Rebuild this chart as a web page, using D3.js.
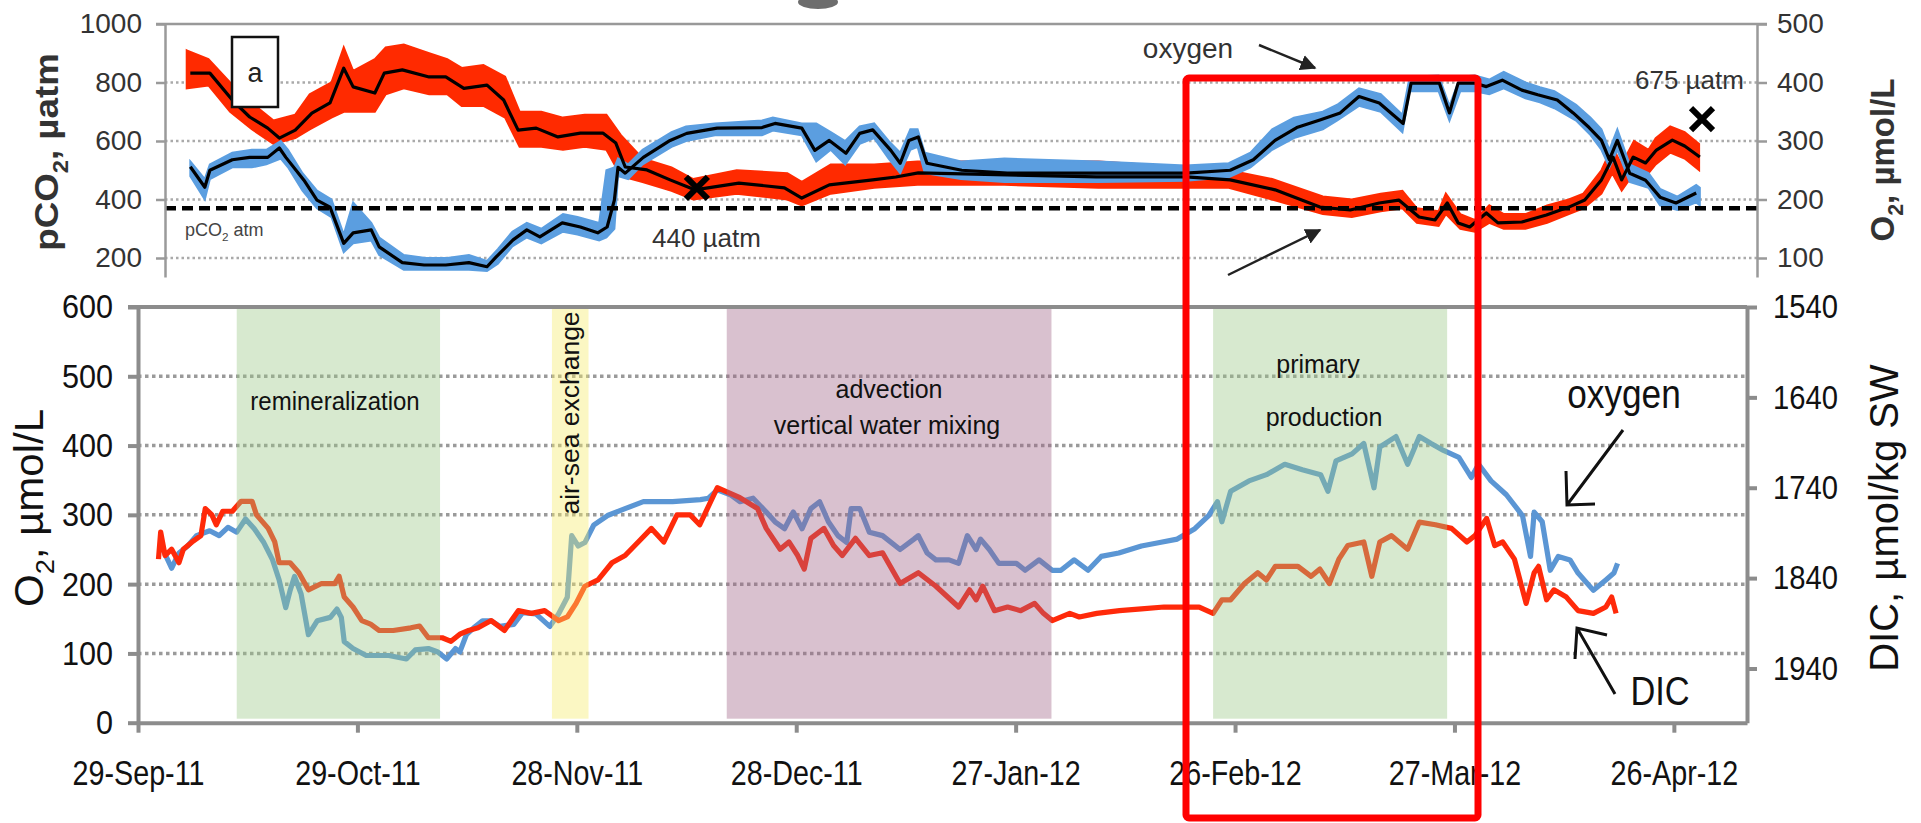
<!DOCTYPE html>
<html>
<head>
<meta charset="utf-8">
<script src="https://cdn.jsdelivr.net/npm/d3@7"></script>
<style>
body { margin: 0; background: #fff; }
svg { display: block; font-family: "Liberation Sans", Arial, sans-serif; }
</style>
</head>
<body>
<div id="chart"></div>
<script>
// ---- data (day = days after 29-Sep-2011) ----

// top panel: smoothed pCO2 (uatm) and O2 (umol/L)
var topPco2 = [[3.5,832],[6.2,832],[9.3,740],[11.7,682],[14.2,644],[15.8,610],[18,637],[20.3,695],[22.8,730],[24.7,849],[26,785],[29,764],[30.3,832],[32.8,843],[36.5,819],[38.8,819],[41.3,780],[44.5,791],[46.8,740],[48.8,637],[51.3,644],[54.3,614],[57.4,627],[60.5,627],[62.3,593],[63.6,511],[66.6,501],[69.8,467],[73.2,433],[79.3,456],[85.6,440],[88,405],[91.8,450],[97.8,467],[101,477],[104.1,491],[116.4,484],[128.7,477],[141.1,477],[147.2,467],[153.4,433],[159.6,374],[163.8,364],[167.8,388],[170.5,398],[173.3,340],[175.5,330],[177.2,388],[178.7,320],[180.3,306],[182.6,354],[184.2,320],[187.5,323],[190.9,347],[194,374],[196.2,398],[198.5,467],[200.1,545],[201.3,467],[202.9,545],[204.6,525],[206.1,569],[208.3,603],[210,583],[212.1,545]];
var topO2 = [[3.5,256],[5.5,221],[6.2,250],[9.3,268],[11.7,272],[14.2,272],[15.8,288],[16.7,272],[19.2,233],[21,199],[22.8,187],[24.7,125],[26,143],[28.5,148],[29.6,119],[32.8,92],[35.8,88],[38.8,88],[42,92],[44.5,85],[45.7,101],[48.1,131],[50,148],[51.8,136],[54.9,160],[57.4,153],[59.8,143],[61.1,153],[62.1,199],[62.6,255],[63.6,245],[66.1,272],[69.8,301],[72.1,313],[76.3,322],[82.5,323],[84.3,330],[88,322],[89.8,284],[91.8,301],[94.1,279],[96,313],[97.8,319],[100.3,284],[101.6,262],[102.8,301],[104.1,307],[105.3,262],[110.1,250],[116.4,245],[128.7,245],[141.1,245],[147.2,250],[150.4,268],[153.4,301],[156.4,323],[159.6,336],[162.4,348],[165,376],[167.8,365],[171.1,330],[172.2,399],[176.1,399],[177.5,348],[178.7,399],[180.9,399],[182.6,393],[184.8,404],[187.5,387],[189.7,379],[192.4,370],[194.6,348],[196.8,323],[198.5,301],[199.6,268],[200.7,301],[202.4,245],[204.6,233],[206.6,204],[208.8,194],[211.6,211]];

// top panel: spread of the raw records [day, low, high]
var topPco2Raw = [[3,780,910],[6,790,880],[9,700,800],[12,640,730],[15,590,670],[18,610,690],[20,640,760],[23,680,800],[24.7,700,920],[26,700,840],[29,700,880],[30.5,760,920],[33,780,930],[36.5,760,900],[39,760,880],[41,720,850],[44,720,860],[47,680,820],[49,580,700],[52,580,700],[55,570,680],[58,580,690],[61,570,690],[63,480,620],[66,460,540],[70,430,510],[73,400,470],[79,420,500],[86,400,490],[88,380,460],[92,420,520],[98,440,520],[104,450,530],[116,450,530],[129,440,530],[141,440,510],[147,440,500],[153,400,470],[160,350,410],[164,340,400],[168,360,420],[171,370,430],[173,320,370],[176,310,360],[177,350,420],[179,300,350],[181,290,330],[183,320,380],[185,300,350],[188,300,350],[191,320,380],[194,350,400],[196,370,420],[198.5,420,500],[200,490,580],[201.3,430,520],[203,490,600],[205,490,570],[206,520,610],[208,560,650],[210,540,630],[212,500,590]];
var topO2Raw = [[3.5,240,265],[5.5,200,235],[6.2,235,260],[9.3,255,280],[12,255,285],[14,260,285],[16,270,300],[17,255,285],[19,215,245],[21,185,215],[23,170,200],[24.7,110,140],[26,125,195],[28.5,130,160],[29.6,105,135],[33,80,105],[36,80,100],[39,80,100],[42,80,105],[44.5,78,95],[46,90,115],[48,120,145],[50,135,160],[52,125,150],[55,145,175],[57,140,170],[60,130,160],[61,135,250],[62.1,150,255],[62.6,240,270],[64,235,260],[66,260,285],[70,290,315],[72,300,325],[76,310,330],[82.5,310,335],[84,318,340],[88,310,330],[90,265,330],[92,285,315],[94,260,300],[96,295,325],[98,305,330],[100,270,300],[101.6,245,280],[103,285,320],[104,290,320],[105,245,280],[110,235,265],[116,230,270],[129,230,265],[141,232,258],[147,238,262],[150,255,280],[153,285,320],[156,305,340],[160,320,350],[162,335,362],[165,360,390],[168,350,380],[171,315,345],[172,385,410],[176,385,412],[177.5,335,360],[179,385,410],[181,385,412],[183,380,405],[185,390,418],[188,373,400],[190,366,392],[192,356,385],[195,335,362],[197,310,340],[198.5,285,320],[199.6,255,285],[200.7,285,320],[202.4,230,260],[205,220,245],[206.6,190,218],[209,182,205],[211.6,195,225],[212.1,190,220]];

var pco2Atm = 370;
var topMarks = [[73.5, 440], [212.4, 675]];

// bottom panel: oxygen (umol/L) and DIC (umol/kg SW)
var oxygen = [[3.4,250],[4.6,223],[5.6,245],[6.8,255],[8,270],[9.8,277],[11.1,270],[12.3,282],[13.5,275],[14.7,294],[15.9,280],[17.2,260],[18.4,235],[19.3,206],[20.2,166],[20.8,191],[21.4,211],[22.3,186],[23.3,127],[23.9,137],[24.5,147],[26.3,152],[27.2,164],[27.8,152],[28.2,117],[29.4,107],[31.2,97],[34.3,97],[36.7,92],[37.9,105],[39.7,107],[41,102],[42.2,92],[43.4,107],[44,102],[44.9,127],[45.9,137],[47.1,147],[48.3,147],[49.5,139],[51.4,142],[52.6,159],[54.4,157],[56.3,139],[57.5,157],[58.7,181],[59.3,270],[60.2,255],[61.1,260],[62.3,285],[64.2,299],[66.6,309],[69.1,319],[73.1,319],[76.9,322],[78,324],[79.2,336],[81,329],[82.3,319],[84.1,324],[85.9,304],[87.1,290],[88.4,280],[89.6,304],[90.8,280],[92,309],[93.2,319],[94.4,290],[95.7,270],[96.9,260],[97.5,309],[98.7,309],[100,275],[101.8,270],[104.2,250],[106.1,265],[106.7,270],[107.9,245],[109.1,235],[110.9,235],[112.2,230],[113.4,270],[114.6,250],[115.2,265],[116.4,250],[117.7,230],[120.1,230],[121.3,220],[123.2,235],[125,220],[126.2,220],[128,235],[129.9,220],[131.7,240],[134.1,245],[137.2,255],[139.7,260],[142.1,265],[144.5,280],[146.4,299],[147.6,319],[148.2,290],[149.4,334],[151.9,349],[154.3,358],[156.8,373],[159.2,365],[161.7,358],[162.7,334],[163.8,378],[166,388],[167.6,403],[169,339],[169.8,398],[172,413],[173.6,373],[175.2,413],[176.8,403],[178.5,393],[180.6,383],[182.3,354],[183.3,373],[185,349],[187.1,329],[189.3,299],[190.4,240],[190.9,304],[192,290],[193.1,220],[194.2,240],[195.8,235],[196.9,216],[199,191],[200.7,206],[201.8,216],[202.3,230]];
var dic = [[2.8,1819],[3.1,1789],[3.7,1815],[4.6,1808],[5.6,1823],[6.2,1808],[7.4,1800],[8.6,1793],[9.2,1763],[10.1,1770],[10.7,1781],[11.6,1766],[12.9,1766],[14.1,1755],[15.6,1755],[16.2,1770],[17.8,1785],[18.7,1800],[19.3,1823],[20.8,1823],[22,1834],[23.3,1853],[25.1,1846],[26.9,1846],[27.5,1838],[28.2,1861],[29.4,1872],[30.6,1887],[31.8,1891],[33,1898],[34.9,1898],[37.3,1895],[38.5,1893],[39.7,1906],[41.6,1906],[42.8,1910],[44,1902],[45.2,1898],[46.5,1895],[48.3,1887],[50.1,1898],[52,1876],[53.8,1879],[55.6,1876],[57.5,1887],[58.7,1883],[59.9,1868],[61.1,1849],[62.9,1842],[64.8,1823],[66.6,1815],[68.4,1800],[70.2,1785],[71.9,1800],[73.7,1770],[75.5,1770],[76.8,1781],[79.2,1740],[82.3,1751],[84.7,1763],[85.9,1785],[87.8,1808],[89,1800],[90.2,1815],[91.1,1830],[92,1796],[93.8,1785],[95.1,1804],[96.3,1815],[98.1,1796],[100,1815],[101.8,1812],[104.2,1846],[106.7,1834],[109.1,1849],[112.2,1872],[113.7,1853],[114.6,1864],[115.5,1849],[117.1,1876],[118.9,1872],[120.7,1876],[122.6,1868],[123.8,1879],[125,1887],[127.4,1879],[128.7,1883],[131.1,1879],[134.2,1876],[137.2,1874],[140.3,1872],[143.3,1872],[145.1,1872],[147,1879],[148.2,1864],[149.4,1864],[151.3,1846],[153.1,1834],[154.3,1842],[155.5,1827],[158.6,1827],[160.4,1838],[161.6,1830],[162.9,1846],[164.2,1819],[165.4,1804],[167.6,1800],[168.7,1838],[169.8,1800],[171.4,1793],[173.6,1808],[175.2,1778],[177.4,1781],[179.6,1785],[181.7,1800],[182.8,1793],[184.4,1774],[185.5,1804],[186.6,1800],[188.2,1819],[189.8,1868],[190.9,1834],[191.5,1827],[192.6,1864],[193.6,1853],[195.3,1861],[196.9,1876],[199,1879],[200.7,1872],[201.5,1861],[202.1,1879]];

// process periods [start day, end day]
var processNames = ["remineralization", "air-sea exchange", "advection", "primary production"];
var processDays = [[13.5, 41.3], [56.6, 61.6], [80.5, 124.9], [147, 179]];

var topLeftTicks = [200, 400, 600, 800, 1000];
var topRightTicks = [100, 200, 300, 400, 500];
var o2Ticks = [0, 100, 200, 300, 400, 500, 600];
var dicTicks = [1540, 1640, 1740, 1840, 1940];
var dateTickDays = [0, 30, 60, 90, 120, 150, 180, 210];

// ---- setup ----
var W = 1921, H = 823;
var svg = d3.select("#chart").append("svg").attr("width", W).attr("height", H);
svg.append("rect").attr("width", W).attr("height", H).attr("fill", "#fff");

var t0 = new Date(2011, 8, 29);
function toDate(d) { return new Date(t0.getTime() + d * 864e5); }
var plain = d3.format("d");

var xt = d3.scaleTime().domain([t0, toDate(220)]).range([165, 1757]);
var yt = d3.scaleLinear().domain([135, 1000]).range([277, 24]);
var yt2 = d3.scaleLinear().domain([67.5, 500]).range([277, 24]);

var xb = d3.scaleTime().domain([t0, toDate(220)]).range([138, 1747]);
var yb = d3.scaleLinear().domain([0, 600]).range([722.7, 307]);
var yd = d3.scaleLinear().domain([1540, 2000]).range([307, 722.7]);

function label(parent, x, y, parts, size, o) {
    o = o || {};
    var t = parent.append("text")
        .attr("transform", "translate(" + x + "," + y + ")" + (o.rotate ? " rotate(" + o.rotate + ")" : "") + " scale(" + (o.sx || 1) + ",1)")
        .attr("font-size", size)
        .attr("text-anchor", o.anchor || "middle")
        .attr("fill", o.fill || "#111")
        .attr("font-weight", o.weight || null);
    var arr = typeof parts === "string" ? [{t: parts}] : parts;
    var shift = 0;
    arr.forEach(function(p) {
        var ts = t.append("tspan").text(p.t);
        if (p.sub) { ts.attr("font-size", size * 0.65).attr("dy", size * 0.28); shift = size * 0.28; }
        else if (shift) { ts.attr("dy", -shift); shift = 0; }
    });
    return t;
}

var defs = svg.append("defs");
defs.append("marker").attr("id", "tri").attr("viewBox", "0 0 10 10")
    .attr("refX", 9).attr("refY", 5).attr("markerWidth", 16).attr("markerHeight", 16)
    .attr("markerUnits", "userSpaceOnUse").attr("orient", "auto")
    .append("path").attr("d", "M0,0L10,5L0,10z").attr("fill", "#222");
defs.append("clipPath").attr("id", "cutText").append("rect")
    .attr("x", 1150).attr("y", 268).attr("width", 120).attr("height", 10);

// ---- top panel ----
var gTop = svg.append("g");

gTop.selectAll(".tgrid").data(topLeftTicks.filter(function(d) { return d < 1000; }))
    .join("line")
    .attr("x1", 165).attr("x2", 1757)
    .attr("y1", function(d) { return yt(d); }).attr("y2", function(d) { return yt(d); })
    .attr("stroke", "#aaa").attr("stroke-width", 2.5).attr("stroke-dasharray", "2.5,3");
gTop.append("line").attr("x1", 156).attr("x2", 1767).attr("y1", yt(1000)).attr("y2", yt(1000))
    .attr("stroke", "#999").attr("stroke-width", 2.5);

var bandPco2 = d3.area()
    .x(function(d) { return xt(toDate(d[0])); })
    .y0(function(d) { return yt(d[1]); })
    .y1(function(d) { return yt(d[2]); });
var bandO2 = d3.area()
    .x(function(d) { return xt(toDate(d[0])); })
    .y0(function(d) { return yt2(d[1]); })
    .y1(function(d) { return yt2(d[2]); });

gTop.append("path").datum(topPco2Raw).attr("d", bandPco2)
    .attr("fill", "#ff2a00").attr("stroke", "#ff2a00").attr("stroke-width", 2);
gTop.append("path").datum(topO2Raw).attr("d", bandO2)
    .attr("fill", "#5b9ee0").attr("stroke", "#5b9ee0").attr("stroke-width", 2);

var linePco2 = d3.line()
    .x(function(d) { return xt(toDate(d[0])); })
    .y(function(d) { return yt(d[1]); });
var lineO2top = d3.line()
    .x(function(d) { return xt(toDate(d[0])); })
    .y(function(d) { return yt2(d[1]); });

gTop.append("path").datum(topPco2).attr("d", linePco2)
    .attr("fill", "none").attr("stroke", "#000").attr("stroke-width", 3.2).attr("stroke-linejoin", "round");
gTop.append("path").datum(topO2).attr("d", lineO2top)
    .attr("fill", "none").attr("stroke", "#000").attr("stroke-width", 3.2).attr("stroke-linejoin", "round");

gTop.append("line").attr("x1", 165).attr("x2", 1757).attr("y1", yt(pco2Atm)).attr("y2", yt(pco2Atm))
    .attr("stroke", "#000").attr("stroke-width", 4.5).attr("stroke-dasharray", "11,6");

gTop.selectAll(".xmark").data(topMarks).join("path")
    .attr("transform", function(d) { return "translate(" + xt(toDate(d[0])) + "," + yt(d[1]) + ")"; })
    .attr("d", "M-11,-11L11,11M11,-11L-11,11")
    .attr("stroke", "#000").attr("stroke-width", 6);

// top axes
var tl = gTop.append("g").attr("transform", "translate(165,0)")
    .call(d3.axisLeft(yt).tickValues(topLeftTicks).tickFormat(plain).tickSize(9).tickSizeOuter(0).tickPadding(14));
var tr = gTop.append("g").attr("transform", "translate(1757,0)")
    .call(d3.axisRight(yt2).tickValues(topRightTicks).tickFormat(plain).tickSize(10).tickSizeOuter(0).tickPadding(10));
[tl, tr].forEach(function(g) {
    g.attr("font-family", null).attr("font-size", 28);
    g.selectAll("path, line").attr("stroke", "#9a9a9a").attr("stroke-width", 2.5);
    g.selectAll("text").attr("fill", "#333");
});

label(gTop, 58, 152, [{t: "pCO"}, {t: "2", sub: true}, {t: ", µatm"}], 34, {rotate: -90, weight: "bold", fill: "#333", sx: 1.08});
label(gTop, 1894, 160, [{t: "O"}, {t: "2", sub: true}, {t: ", µmol/L"}], 33, {rotate: -90, weight: "bold", fill: "#333"});

gTop.append("rect").attr("x", 232).attr("y", 37).attr("width", 46).attr("height", 70)
    .attr("fill", "#fff").attr("stroke", "#111").attr("stroke-width", 2.5);
label(gTop, 255, 82, "a", 27, {fill: "#222"});

label(gTop, 185, 236, [{t: "pCO"}, {t: "2", sub: true}, {t: " atm"}], 18, {anchor: "start", fill: "#444"});
label(gTop, 652, 247, "440 µatm", 26, {anchor: "start", fill: "#333"});
label(gTop, 1635, 89, "675 µatm", 26, {anchor: "start", fill: "#333"});
label(gTop, 1188, 58, "oxygen", 28, {fill: "#333"});

gTop.append("line").attr("x1", 1259).attr("y1", 45).attr("x2", 1315).attr("y2", 68)
    .attr("stroke", "#222").attr("stroke-width", 2.5).attr("marker-end", "url(#tri)");
gTop.append("line").attr("x1", 1228).attr("y1", 275).attr("x2", 1320).attr("y2", 230)
    .attr("stroke", "#222").attr("stroke-width", 2.5).attr("marker-end", "url(#tri)");
label(gTop, 1163, 297, [{t: "pCO"}, {t: "2", sub: true}], 27, {anchor: "start", fill: "#222"})
    .attr("clip-path", "url(#cutText)");

gTop.append("ellipse").attr("cx", 818).attr("cy", 2).attr("rx", 20).attr("ry", 7).attr("fill", "#6d6d6d");

// ---- bottom panel ----
var gBot = svg.append("g");

gBot.selectAll(".bgrid").data(o2Ticks.filter(function(d) { return d > 0 && d < 600; }))
    .join("line")
    .attr("x1", 138).attr("x2", 1747)
    .attr("y1", function(d) { return yb(d); }).attr("y2", function(d) { return yb(d); })
    .attr("stroke", "#9a9a9a").attr("stroke-width", 3.5).attr("stroke-dasharray", "3.5,3.5");

var lineO2 = d3.line()
    .x(function(d) { return xb(toDate(d[0])); })
    .y(function(d) { return yb(d[1]); });
var lineDic = d3.line()
    .x(function(d) { return xb(toDate(d[0])); })
    .y(function(d) { return yd(d[1]); });

gBot.append("path").datum(oxygen).attr("d", lineO2)
    .attr("fill", "none").attr("stroke", "#5b96d4").attr("stroke-width", 5.2).attr("stroke-linejoin", "round");
gBot.append("path").datum(dic).attr("d", lineDic)
    .attr("fill", "none").attr("stroke", "#ff2a0a").attr("stroke-width", 5.2).attr("stroke-linejoin", "round");

var shadeColors = ["#9bc887", "#f5eb69", "#a06487", "#9bc887"];
gBot.selectAll(".shade").data(processDays).join("rect")
    .attr("x", function(d) { return xb(toDate(d[0])); })
    .attr("width", function(d) { return xb(toDate(d[1])) - xb(toDate(d[0])); })
    .attr("y", yb(600) + 2)
    .attr("height", yb(0) - yb(600) - 6)
    .attr("fill", function(d, i) { return shadeColors[i]; })
    .attr("fill-opacity", 0.4);

label(gBot, 335, 410, processNames[0], 25, {sx: 0.96});
label(gBot, 579, 413, processNames[1], 25, {rotate: -90, sx: 1.06});
label(gBot, 889, 398, processNames[2], 25);
label(gBot, 887, 434, "vertical water mixing", 25);
label(gBot, 1318, 373, "primary", 25);
label(gBot, 1324, 426, "production", 25);

// bottom axes
var bl = gBot.append("g").attr("transform", "translate(138,0)")
    .call(d3.axisLeft(yb).tickValues(o2Ticks).tickFormat(plain).tickSize(10).tickSizeOuter(0));
var br = gBot.append("g").attr("transform", "translate(1747,0)")
    .call(d3.axisRight(yd).tickValues(dicTicks).tickFormat(plain).tickSize(10).tickSizeOuter(0));
var bx = gBot.append("g").attr("transform", "translate(0," + yb(0) + ")")
    .call(d3.axisBottom(xb).tickValues(dateTickDays.map(toDate)).tickFormat(d3.timeFormat("%d-%b-%y")).tickSize(10).tickSizeOuter(0));
[bl, br, bx].forEach(function(g) {
    g.attr("font-family", null).attr("font-size", 34);
    g.selectAll("path, line").attr("stroke", "#8c8c8c").attr("stroke-width", 4);
    g.selectAll("text").attr("fill", "#111");
});
bl.selectAll("text").attr("transform", "scale(0.9,1)").attr("x", -25 / 0.9);
br.selectAll("text").attr("transform", "scale(0.86,1)").attr("x", 26 / 0.86);
bx.selectAll("text").attr("y", 62).attr("dy", 0).attr("font-size", 35).attr("transform", "scale(0.82,1)");
gBot.append("line").attr("x1", 128).attr("x2", 1747).attr("y1", yb(600)).attr("y2", yb(600))
    .attr("stroke", "#8c8c8c").attr("stroke-width", 4);

label(gBot, 43, 508, [{t: "O"}, {t: "2", sub: true}, {t: ", µmol/L"}], 40, {rotate: -90, sx: 1.05});
label(gBot, 1898, 518, "DIC, µmol/kg SW", 40, {rotate: -90, sx: 1.0});

label(gBot, 1624, 408, "oxygen", 40, {sx: 0.88});
label(gBot, 1660, 705, "DIC", 40, {sx: 0.86});
gBot.append("path").attr("d", "M1623,430L1567,505M1595,504L1567,505L1566,471")
    .attr("fill", "none").attr("stroke", "#111").attr("stroke-width", 3);
gBot.append("path").attr("d", "M1615,694L1577,628M1607,635L1577,628L1575,659")
    .attr("fill", "none").attr("stroke", "#111").attr("stroke-width", 3);

// highlight frame
svg.append("rect").attr("x", 1186).attr("y", 78).attr("width", 292).attr("height", 740)
    .attr("rx", 3).attr("fill", "none").attr("stroke", "#ff0000").attr("stroke-width", 7);
</script>
</body>
</html>
